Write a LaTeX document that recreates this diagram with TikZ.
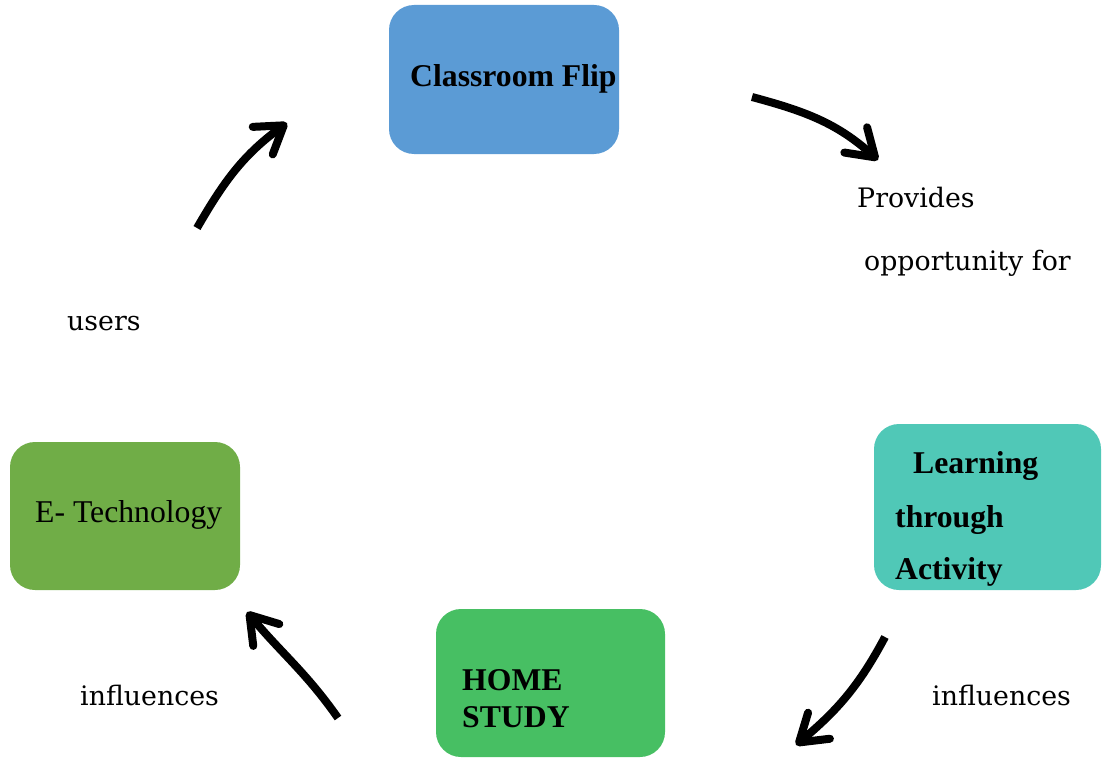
\documentclass[tikz,border=0pt]{standalone}
\usepackage{fontspec}
\setmainfont{Liberation Serif}
\newfontfamily\bodyfont{DejaVu Serif}
\usetikzlibrary{arrows.meta}

\definecolor{flipblue}{HTML}{5B9BD5}
\definecolor{activteal}{HTML}{50C8B7}
\definecolor{homegreen}{HTML}{47BF63}
\definecolor{techgreen}{HTML}{70AD47}

\tikzset{
  box/.style={rounded corners=25pt, inner sep=0pt, draw=none},
  boxtext/.style={anchor=base west, inner sep=0pt, font=\fontsize{31.7}{36}\selectfont\bfseries},
  plaintext/.style={anchor=base west, inner sep=0pt, font=\fontsize{31.7}{36}\selectfont},
  caption/.style={anchor=base west, inner sep=0pt, font=\bodyfont\fontsize{26.8}{32}\selectfont},
  flow/.style={line width=8pt,
    -{Straight Barb[length=26pt,width=34pt,line width=8pt,round]}}
}

\begin{document}
\begin{tikzpicture}[x=1pt,y=1pt]
\useasboundingbox (0,0) rectangle (1102,-757);

% coloured boxes
\node[box, fill=flipblue, minimum width=230pt, minimum height=149pt] (flip) at (504,-79.5) {};
\node[box, fill=activteal, minimum width=227pt, minimum height=166pt] (activ) at (987.5,-507) {};
\node[box, fill=homegreen, minimum width=229pt, minimum height=148pt] (home) at (550.5,-683) {};
\node[box, fill=techgreen, minimum width=230pt, minimum height=148pt] (tech) at (125,-516) {};

% box labels
\node[boxtext] (flipT) at (410,-87) {Classroom Flip};
\node[boxtext] (activT1) at (913,-473) {Learning};
\node[boxtext] (activT2) at (895,-527) {through};
\node[boxtext] (activT3) at (895,-579) {Activity};
\node[boxtext] (homeT1) at (462,-690) {HOME};
\node[boxtext] (homeT2) at (462,-727) {STUDY};
\node[plaintext] (techT) at (35,-522) {E- Technology};

% relation captions
\node[caption] (prov1) at (857,-207) {Provides};
\node[caption] (prov2) at (864,-270) {opportunity for};
\node[caption] (users) at (67,-330) {users};
\node[caption] (inflL) at (80,-705) {influences};
\node[caption] (inflR) at (932,-705) {influences};

% curved arrows between the boxes
\coordinate (a1s) at (752,-97);  \coordinate (a1e) at (878,-160);
\coordinate (a2s) at (197,-228); \coordinate (a2e) at (287,-123);
\coordinate (a3s) at (885,-637); \coordinate (a3e) at (796,-745);
\coordinate (a4s) at (338,-718); \coordinate (a4e) at (247,-612);

\draw[flow] (a1s) to[out=-15,in=138] (a1e);
\draw[flow] (a2s) to[out=60,in=216] (a2e);
\draw[flow] (a3s) to[out=242,in=40] (a3e);
\draw[flow] (a4s) to[out=125,in=-50] (a4e);
\end{tikzpicture}
\end{document}
